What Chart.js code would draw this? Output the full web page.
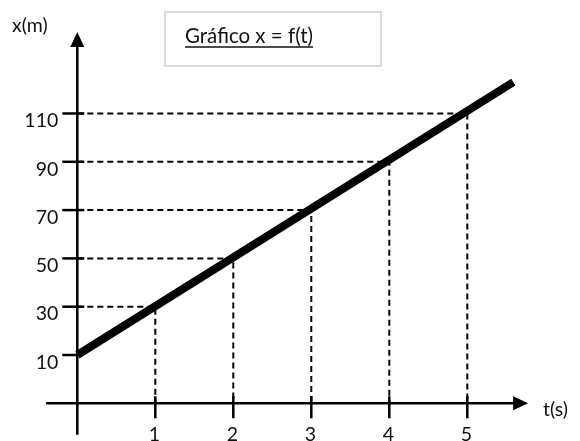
<!DOCTYPE html>
<html>
<head>
<meta charset="utf-8">
<script src="https://cdn.jsdelivr.net/npm/chart.js@4/dist/chart.umd.min.js"></script>
<style>
  html, body { margin: 0; padding: 0; background: #fff; }
  #wrap { width: 580px; height: 441px; }
</style>
</head>
<body>
<div id="wrap"><canvas id="graph" width="580" height="441"></canvas></div>
<script>
// Data
const times = [1, 2, 3, 4, 5];              // t (s) with guide lines
const positions = [30, 50, 70, 90, 110];    // x (m) at those times
const yTicks = [10, 30, 50, 70, 90, 110];   // labels on the x(m) axis
const xTicks = [1, 2, 3, 4, 5];             // labels on the t(s) axis
const lineT = [0, 5.59];                    // thick line, start and end (t)
const lineX = [10, 123];                    // thick line, start and end (x)

// Where the hand-drawn axes sit, in data units
const axisOriginT = 0;      // vertical axis at t = 0
const axisOriginX = -10;    // horizontal axis sits a bit below x = 0
const xAxisRange = [-0.4, 5.78];
const yAxisRange = [-23, 143.7];

const FONT = 'Lato, "Open Sans", sans-serif';

const guideSets = times.map((t, i) => ({
    data: [
        { x: axisOriginT, y: positions[i] },
        { x: t, y: positions[i] },
        { x: t, y: axisOriginX }
    ],
    borderColor: '#000',
    borderWidth: 2,
    borderDash: [6, 4],
    pointRadius: 0,
    tension: 0,
    order: 2
}));

const axesPlugin = {
    id: 'axesPlugin',
    beforeDatasetsDraw(chart) {
        const ctx = chart.ctx;
        const xs = chart.scales.x, ys = chart.scales.y;
        const ox = xs.getPixelForValue(axisOriginT);
        const oy = ys.getPixelForValue(axisOriginX);
        ctx.save();
        ctx.strokeStyle = '#000';
        ctx.fillStyle = '#000';
        ctx.lineWidth = 2.5;

        // horizontal axis + arrow
        const xEnd = xs.getPixelForValue(xAxisRange[1]);
        ctx.beginPath();
        ctx.moveTo(xs.getPixelForValue(xAxisRange[0]), oy);
        ctx.lineTo(xEnd - 14, oy);
        ctx.stroke();
        ctx.beginPath();
        ctx.moveTo(xEnd, oy);
        ctx.lineTo(xEnd - 15, oy - 7);
        ctx.lineTo(xEnd - 15, oy + 7);
        ctx.closePath();
        ctx.fill();

        // vertical axis + arrow
        const yEnd = ys.getPixelForValue(yAxisRange[1]);
        ctx.beginPath();
        ctx.moveTo(ox, ys.getPixelForValue(yAxisRange[0]));
        ctx.lineTo(ox, yEnd + 14);
        ctx.stroke();
        ctx.beginPath();
        ctx.moveTo(ox, yEnd);
        ctx.lineTo(ox - 7, yEnd + 15);
        ctx.lineTo(ox + 7, yEnd + 15);
        ctx.closePath();
        ctx.fill();

        // tick stubs
        yTicks.forEach(v => {
            const py = ys.getPixelForValue(v);
            ctx.beginPath();
            ctx.moveTo(ox - 15, py);
            ctx.lineTo(ox + (v === yTicks[0] ? 0 : 7), py);
            ctx.stroke();
        });
        xTicks.forEach(t => {
            const px = xs.getPixelForValue(t);
            ctx.beginPath();
            ctx.moveTo(px, oy - 7);
            ctx.lineTo(px, oy + 15);
            ctx.stroke();
        });
        ctx.restore();
    },
    afterDraw(chart) {
        const ctx = chart.ctx;
        const xs = chart.scales.x, ys = chart.scales.y;
        const ox = xs.getPixelForValue(axisOriginT);
        const oy = ys.getPixelForValue(axisOriginX);
        ctx.save();
        ctx.fillStyle = '#111';
        ctx.font = '19.5px ' + FONT;
        ctx.textBaseline = 'middle';

        ctx.textAlign = 'right';
        yTicks.forEach(v => {
            ctx.fillText(String(v), ox - 19, ys.getPixelForValue(v) + 7.5);
        });
        ctx.textAlign = 'center';
        xTicks.forEach(t => {
            ctx.fillText(String(t), xs.getPixelForValue(t) - 1, oy + 31);
        });

        ctx.textAlign = 'left';
        ctx.fillText('x(m)', 12, 26);
        ctx.fillText('t(s)', 543, 410);

        // title box
        ctx.strokeStyle = '#d9d9d9';
        ctx.lineWidth = 2;
        ctx.strokeRect(165, 12, 216, 54);
        ctx.font = '20.5px ' + FONT;
        ctx.textBaseline = 'alphabetic';
        const title = 'Gráfico x = f(t)';
        ctx.fillText(title, 185, 43);
        const w = ctx.measureText(title).width;
        ctx.strokeStyle = '#111';
        ctx.lineWidth = 1.5;
        ctx.beginPath();
        ctx.moveTo(185, 47);
        ctx.lineTo(185 + w, 47);
        ctx.stroke();
        ctx.restore();
    }
};

new Chart(document.getElementById('graph'), {
    type: 'line',
    data: {
        datasets: [
            {
                data: lineT.map((t, i) => ({ x: t, y: lineX[i] })),
                borderColor: '#000',
                borderWidth: 8,
                borderCapStyle: 'butt',
                pointRadius: 0,
                order: 1
            },
            ...guideSets
        ]
    },
    options: {
        responsive: false,
        animation: false,
        events: [],
        layout: { padding: 0, autoPadding: false },
        plugins: {
            legend: { display: false },
            tooltip: { enabled: false },
            title: { display: false }
        },
        scales: {
            x: { type: 'linear', min: -0.991, max: 6.445, display: false },
            y: { type: 'linear', min: -25.61, max: 156.99, display: false }
        }
    },
    plugins: [axesPlugin]
});
</script>
</body>
</html>
